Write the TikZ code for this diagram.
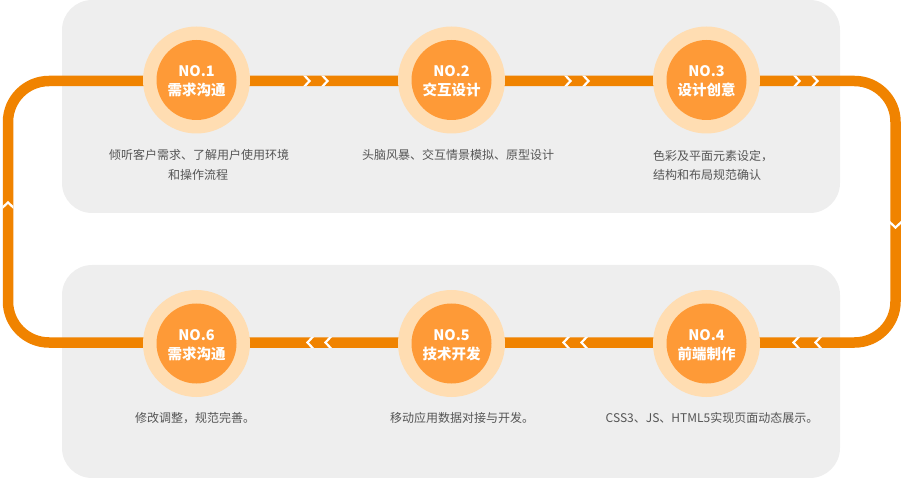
\documentclass[tikz,border=0pt]{standalone}
\usepackage{fontspec}
\setmainfont{Noto Sans CJK SC}
\definecolor{lineorange}{HTML}{F08300}
\definecolor{innerorange}{HTML}{FE9A37}
\definecolor{ringpeach}{HTML}{FFDDB2}
\definecolor{panelgray}{HTML}{EEEEEE}
\definecolor{textgray}{HTML}{555555}
\newcommand\chR[2]{\fill[white] (#1-4,#2-5.4) -- ++(3,0) -- (#1+4,#2) -- (#1-1,#2+5.4) -- ++(-3,0) -- (#1+1,#2) -- cycle;}
\newcommand\chL[2]{\fill[white] (#1+4,#2-5.4) -- ++(-3,0) -- (#1-4,#2) -- (#1+1,#2+5.4) -- ++(3,0) -- (#1-1,#2) -- cycle;}
\newcommand\chU[2]{\fill[white] (#1-5.4,#2+4) -- ++(0,-3) -- (#1,#2-4) -- (#1+5.4,#2+1) -- ++(0,3) -- (#1,#2-1) -- cycle;}
\newcommand\chD[2]{\fill[white] (#1-5.4,#2-4) -- ++(0,3) -- (#1,#2+4) -- (#1+5.4,#2-1) -- ++(0,-3) -- (#1,#2+1) -- cycle;}
\begin{document}
\begin{tikzpicture}[x=1pt,y=-1pt,
  panel/.style={fill=panelgray,rounded corners=30pt},
  ring/.style={circle,fill=ringpeach,minimum size=107pt,inner sep=0pt},
  core/.style={circle,fill=innerorange,minimum size=80pt,inner sep=0pt},
  numtext/.style={text=white,font=\fontsize{14.5}{16}\selectfont\bfseries,anchor=base,inner sep=0pt},
  desc/.style={text=textgray,font=\fontsize{12}{14}\selectfont,anchor=base,inner sep=0pt}]
\useasboundingbox (0,0) rectangle (902,478);
\fill[panel] (62,0) rectangle (840,213);
\fill[panel] (62,265) rectangle (840,478);
% loop
\draw[lineorange,line width=10.5pt,rounded corners=41pt] (8,81) rectangle (895.5,342.5);
% chevrons
\chR{307}{81}\chR{325}{81}
\chR{568}{81}\chR{586}{81}
\chR{797}{81}\chR{815}{81}
\chL{796}{342.5}\chL{818}{342.5}
\chL{566}{342.5}\chL{584}{342.5}
\chL{310}{342.5}\chL{328}{342.5}
\chU{8}{205}
\chD{895.5}{225}
% circles
\foreach \n/\x/\y in {1/196.5/80,2/451.5/80,3/706.5/80,6/196.5/343.5,5/451.5/343.5,4/706.5/343.5}{
  \node[ring] (r\n) at (\x,\y) {};
  \node[core] (c\n) at (\x,\y) {};
}
\node[numtext] (n1) at ([yshift=3pt]c1.center) {NO.1};
\node[numtext] (t1) at ([yshift=-15.5pt]c1.center) {需求沟通};
\node[numtext] (n2) at ([yshift=3pt]c2.center) {NO.2};
\node[numtext] (t2) at ([yshift=-15.5pt]c2.center) {交互设计};
\node[numtext] (n3) at ([yshift=3pt]c3.center) {NO.3};
\node[numtext] (t3) at ([yshift=-15.5pt]c3.center) {设计创意};
\node[numtext] (n4) at ([yshift=3pt]c4.center) {NO.4};
\node[numtext] (t4) at ([yshift=-15.5pt]c4.center) {前端制作};
\node[numtext] (n5) at ([yshift=3pt]c5.center) {NO.5};
\node[numtext] (t5) at ([yshift=-15.5pt]c5.center) {技术开发};
\node[numtext] (n6) at ([yshift=3pt]c6.center) {NO.6};
\node[numtext] (t6) at ([yshift=-15.5pt]c6.center) {需求沟通};
% descriptions
\node[desc] (d1a) at (199,160) {倾听客户需求、了解用户使用环境};
\node[desc] (d1b) at (198,180) {和操作流程};
\node[desc] (d2) at (458,160) {头脑风暴、交互情景模拟、原型设计};
\node[desc,anchor=base west] (d3a) at (653,160.5) {色彩及平面元素设定，};
\node[desc,anchor=base west] (d3b) at (653,180) {结构和布局规范确认};
\node[desc] (d6) at (195,422.5) {修改调整，规范完善。};
\node[desc] (d5) at (462,422.5) {移动应用数据对接与开发。};
\node[desc] (d4) at (712,422.5) {CSS3、JS、HTML5实现页面动态展示。};
\end{tikzpicture}
\end{document}
